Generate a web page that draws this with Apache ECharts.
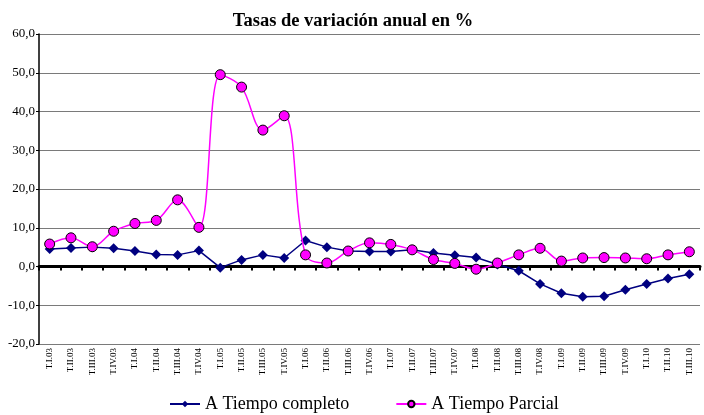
<!DOCTYPE html>
<html>
<head>
<meta charset="utf-8">
<script src="https://cdn.jsdelivr.net/npm/echarts@6/dist/echarts.min.js"></script>
<style>
  html, body { margin: 0; padding: 0; background: #fff; }
  #chart { width: 704px; height: 415px; }
</style>
</head>
<body>
<div id="chart"></div>
<script>
// trimestres
const quarters = [
  'T.I.03', 'T.II.03', 'T.III.03', 'T.IV.03',
  'T.I.04', 'T.II.04', 'T.III.04', 'T.IV.04',
  'T.I.05', 'T.II.05', 'T.III.05', 'T.IV.05',
  'T.I.06', 'T.II.06', 'T.III.06', 'T.IV.06',
  'T.I.07', 'T.II.07', 'T.III.07', 'T.IV.07',
  'T.I.08', 'T.II.08', 'T.III.08', 'T.IV.08',
  'T.I.09', 'T.II.09', 'T.III.09', 'T.IV.09',
  'T.I.10', 'T.II.10', 'T.III.10'
]
const tiempoCompleto = [
  4.5, 4.8, 5.0, 4.7, 4.0, 3.1, 3.0, 4.1,
  -0.3, 1.7, 3.0, 2.2, 6.7, 5.0, 4.0, 3.9,
  3.9, 4.3, 3.5, 2.9, 2.3, 0.5, -1.1, -4.5,
  -6.9, -7.8, -7.7, -6.0, -4.5, -3.1, -2.0
]
const tiempoParcial = [
  5.8, 7.4, 5.1, 9.1, 11.1, 11.9, 17.2, 10.1,
  49.5, 46.3, 35.2, 38.9, 3.0, 0.9, 4.0, 6.1,
  5.7, 4.3, 1.8, 0.8, -0.7, 0.9, 3.0, 4.7,
  1.4, 2.2, 2.3, 2.2, 2.0, 3.0, 3.8
]

const serif = '"Liberation Serif", "Times New Roman", serif'
const chart = echarts.init(document.getElementById('chart'))
chart.setOption({
  animation: false,
  title: {
    text: 'Tasas de variación anual en %',
    left: 348,
    textAlign: 'center',
    top: 7,
    textStyle: { fontFamily: serif, fontSize: 18.5, fontWeight: 'bold', color: '#000' }
  },
  legend: {
    top: 390,
    left: 164,
    itemGap: 46,
    itemWidth: 30,
    itemHeight: 8,
    textStyle: { fontFamily: serif, fontSize: 18, color: '#000' },
    data: ['A Tiempo completo', 'A Tiempo Parcial']
  },
  grid: { left: 39, right: 4, top: 34, bottom: 71 },
  xAxis: [
    {
      type: 'category',
      data: quarters,
      boundaryGap: true,
      axisLine: { onZero: false, show: false },
      axisTick: { show: false },
      axisLabel: {
        rotate: 90,
        interval: 0,
        fontFamily: serif,
        fontSize: 9,
        color: '#000',
        margin: 4
      }
    },
    {
      type: 'category',
      data: quarters,
      boundaryGap: true,
      position: 'bottom',
      axisLine: { onZero: true, lineStyle: { color: '#000', width: 3 } },
      axisTick: { show: true, interval: 0, length: 4, lineStyle: { color: '#000', width: 2 } },
      axisLabel: { show: false }
    }
  ],
  yAxis: {
    type: 'value',
    min: -20,
    max: 60,
    interval: 10,
    axisLine: { show: true, lineStyle: { color: '#000', width: 1.5 } },
    axisTick: { show: true, length: 3, lineStyle: { color: '#000' } },
    splitLine: { lineStyle: { color: '#7a7a7a', width: 1.2 } },
    axisLabel: {
      fontFamily: serif,
      fontSize: 13,
      color: '#000',
      margin: 4,
      formatter: (v) => v.toFixed(1).replace('.', ',')
    }
  },
  series: [
    {
      name: 'A Tiempo completo',
      type: 'line',
      data: tiempoCompleto,
      symbol: 'diamond',
      symbolSize: 10,
      lineStyle: { color: '#000080', width: 1.5 },
      itemStyle: { color: '#000080' },
      z: 3
    },
    {
      name: 'A Tiempo Parcial',
      type: 'line',
      data: tiempoParcial,
      smooth: 0.35,
      symbol: 'circle',
      symbolSize: 10,
      lineStyle: { color: '#ff00ff', width: 1.5 },
      itemStyle: { color: '#ff00ff', borderColor: '#000', borderWidth: 1 },
      z: 4
    }
  ]
})
</script>
</body>
</html>
